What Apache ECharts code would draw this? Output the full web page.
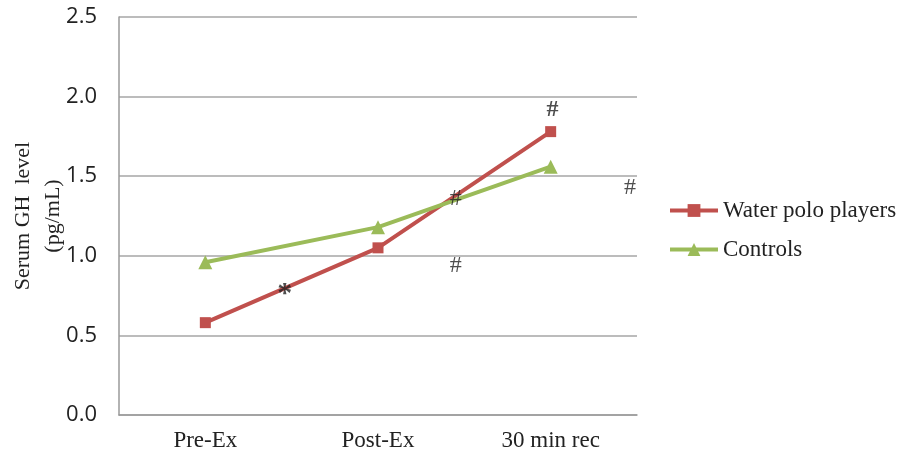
<!DOCTYPE html>
<html><head><meta charset="utf-8">
<script src="https://cdn.jsdelivr.net/npm/echarts@6/dist/echarts.min.js"></script>
<style>html,body{margin:0;padding:0;background:#fff}#c{width:901px;height:457px}</style>
</head><body><div id="c"></div>
<script>
const categories = ['Pre-Ex', 'Post-Ex', '30 min rec'];
const waterPolo = [0.58, 1.05, 1.78];
const controls = [0.96, 1.18, 1.56];
const yTicks = [0, 0.5, 1.0, 1.5, 2.0, 2.5];
// annotations: [category position (index), value, symbol, bold]
const annotations = [
  [0.46, 0.76, '*', true],
  [1.45, 1.36, '#', false],
  [1.45, 0.94, '#', false],
  [2.01, 1.92, '#', true],
  [2.46, 1.43, '#', false]
];
const chart = echarts.init(document.getElementById('c'));
chart.setOption({
  animation: false,
  grid: {left: 119, right: 264, top: 17, bottom: 42, outerBoundsMode: 'none', containLabel: false},
  legend: {
    orient: 'vertical', left: 663, top: 194, itemGap: 16,
    itemWidth: 48, itemHeight: 16,
    lineStyle: {width: 4},
    textStyle: {fontFamily: 'Liberation Serif', fontSize: 23, color: '#222'},
    data: ['Water polo players', 'Controls']
  },
  xAxis: [{
    type: 'category', data: categories, boundaryGap: true,
    axisLine: {lineStyle: {color: '#9a9a9a', width: 1.5}},
    axisTick: {show: false},
    axisLabel: {fontFamily: 'Liberation Serif', fontSize: 23, color: '#222', margin: 14}
  }, {
    type: 'value', min: -0.5, max: 2.5, show: false
  }],
  yAxis: {
    type: 'value', min: 0, max: 2.5, interval: 0.5,
    name: 'Serum GH  level\n(pg/mL)', nameLocation: 'middle', nameGap: 51,
    nameMoveOverlap: false,
    nameTextStyle: {fontFamily: 'Liberation Serif', fontSize: 22, color: '#222', lineHeight: 30},
    axisLine: {show: true, onZero: false, lineStyle: {color: '#9a9a9a', width: 1.5}},
    axisTick: {show: false},
    splitLine: {lineStyle: {color: '#a6a6a6', width: 1.5}},
    axisLabel: {fontFamily: 'Open Sans', fontSize: 22, color: '#222', margin: 22,
      formatter: v => yTicks.includes(v) ? v.toFixed(1) : ''}
  },
  series: [{
    name: 'Water polo players', type: 'line', data: waterPolo,
    symbol: 'rect', symbolSize: 11,
    lineStyle: {color: '#C0504D', width: 4}, itemStyle: {color: '#C0504D'}
  }, {
    name: 'Controls', type: 'line', data: controls,
    symbol: 'triangle', symbolSize: 14,
    lineStyle: {color: '#9BBB59', width: 4}, itemStyle: {color: '#9BBB59'}
  }, {
    name: 'ann', type: 'scatter', xAxisIndex: 1, symbolSize: 1,
    itemStyle: {color: 'rgba(0,0,0,0)'},
    data: annotations.map(a => ({name: a[2], value: [a[0], a[1]],
      label: {fontWeight: a[3] ? 'bold' : 'normal', fontSize: a[2] === '*' ? 30 : 24}})),
    label: {show: true, position: 'inside', formatter: '{b}', fontFamily: 'Liberation Serif', fontSize: 24, color: '#222'},
    silent: true, z: 5
  }]
});
</script></body></html>
